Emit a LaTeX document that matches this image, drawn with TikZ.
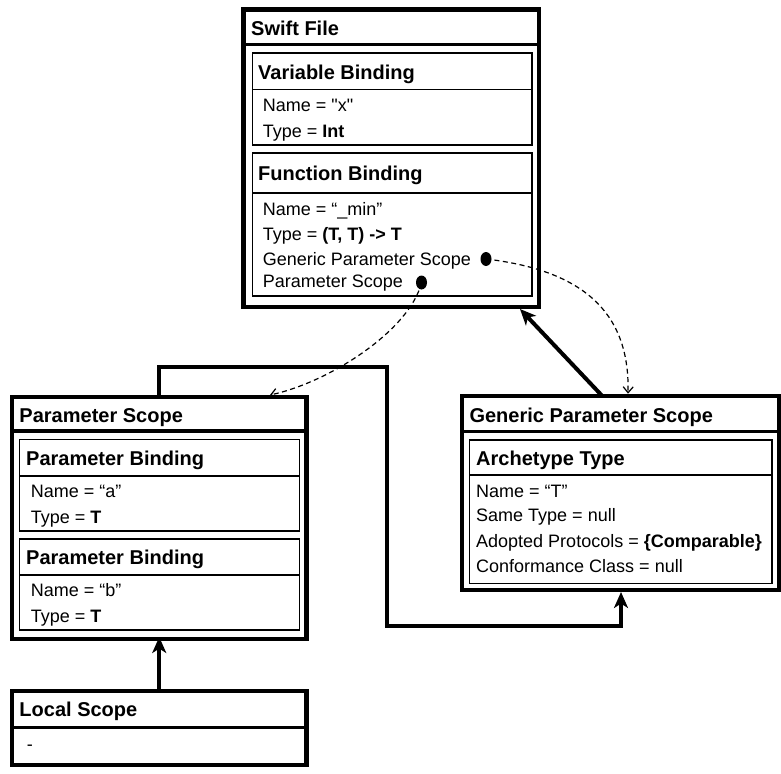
\documentclass[tikz,border=0pt]{standalone}
\usepackage{fontspec}
\setmainfont{Liberation Sans}[Ligatures=TeXOff]
\usetikzlibrary{arrows.meta,fit,calc,shapes.geometric}
\begin{document}
\begin{tikzpicture}[x=1pt,y=-1pt,
  scopebox/.style={draw, line width=4.2pt, inner sep=0pt, outer sep=0pt},
  bindbox/.style={draw, line width=1.6pt, inner sep=0pt, outer sep=0pt},
  headrule/.style={line width=3.2pt},
  bindrule/.style={line width=1.1pt},
  heading/.style={anchor=base west, inner sep=0pt, font=\fontsize{20}{24}\selectfont\bfseries},
  field/.style={anchor=base west, inner sep=0pt, font=\fontsize{18}{22}\selectfont},
  link/.style={line width=4pt, -{Stealth[length=16pt,width=14pt,inset=4.5pt]}},
  ref/.style={line width=1.2pt, dash pattern=on 5pt off 3.5pt, -{Straight Barb[length=6pt,width=10pt]}},
  handle/.style={ellipse, fill=black, inner sep=0pt, minimum width=11pt, minimum height=14pt}
]
\useasboundingbox (0,0) rectangle (781,773);

% ---------- Swift File ----------
\node[scopebox, fit={(243.5,9.5) (539,307)}] (swift) {};
\draw[headrule] ($(swift.north west)+(0,35)$) -- ($(swift.north east)+(0,35)$);
\node[heading] (swiftT) at (251,36) {Swift File};

\node[bindbox, fit={(252.3,53.3) (532,145)}] (varb) {};
\draw[bindrule] ($(varb.north west)+(0,36)$) -- ($(varb.north east)+(0,36)$);
\node[heading] (varbT) at (258,80) {Variable Binding};
\node[field] (varbN) at (262.7,111.7) {Name = "x"};
\node[field] (varbY) at (262.7,137.3) {Type = \textbf{Int}};

\node[bindbox, fit={(252.3,153) (532,296)}] (funcb) {};
\draw[bindrule] ($(funcb.north west)+(0,40)$) -- ($(funcb.north east)+(0,40)$);
\node[heading] (funcbT) at (258,180) {Function Binding};
\node[field] (funcbN) at (262.7,215) {Name = “\_min”};
\node[field] (funcbY) at (262.7,240.7) {Type = \textbf{(T, T) -> T}};
\node[field] (funcbG) at (262.7,265) {Generic Parameter Scope};
\node[field] (funcbP) at (262.7,287.3) {Parameter Scope};
\node[handle] (gdot) at (486,259) {};
\node[handle] (pdot) at (421.5,282.5) {};

% ---------- Parameter Scope ----------
\node[scopebox, fit={(12,397) (306.5,639)}] (param) {};
\draw[headrule] ($(param.north west)+(0,34)$) -- ($(param.north east)+(0,34)$);
\node[heading] (paramT) at (19.3,422.7) {Parameter Scope};

\node[bindbox, fit={(19.3,439.3) (299.3,531)}] (pba) {};
\draw[bindrule] ($(pba.north west)+(0,36.7)$) -- ($(pba.north east)+(0,36.7)$);
\node[heading] (pbaT) at (26,465) {Parameter Binding};
\node[field] (pbaN) at (30.7,497.3) {Name = “a”};
\node[field] (pbaY) at (30.7,523.3) {Type = \textbf{T}};

\node[bindbox, fit={(19.3,539) (299.3,630)}] (pbb) {};
\draw[bindrule] ($(pbb.north west)+(0,36)$) -- ($(pbb.north east)+(0,36)$);
\node[heading] (pbbT) at (26,564) {Parameter Binding};
\node[field] (pbbN) at (30.7,596.7) {Name = “b”};
\node[field] (pbbY) at (30.7,622.7) {Type = \textbf{T}};

% ---------- Local Scope ----------
\node[scopebox, fit={(12,691) (306.5,765)}] (local) {};
\draw[headrule] ($(local.north west)+(0,36.5)$) -- ($(local.north east)+(0,36.5)$);
\node[heading] (localT) at (19.3,716.7) {Local Scope};
\node[field] (localE) at (26.7,750) {-};

% ---------- Generic Parameter Scope ----------
\node[scopebox, fit={(462,395.7) (778.7,590)}] (generic) {};
\draw[headrule] ($(generic.north west)+(0,36)$) -- ($(generic.north east)+(0,36)$);
\node[heading] (genericT) at (469.3,422.7) {Generic Parameter Scope};

\node[bindbox, fit={(469.3,440) (771.7,583.3)}] (arch) {};
\draw[bindrule] ($(arch.north west)+(0,35)$) -- ($(arch.north east)+(0,35)$);
\node[heading] (archT) at (476,465) {Archetype Type};
\node[field] (archN) at (476,497.3) {Name = “T”};
\node[field] (archS) at (476,521.7) {Same Type = null};
\node[field] (archA) at (476,547.3) {Adopted Protocols = \textbf{\{Comparable\}}};
\node[field] (archC) at (476,572.7) {Conformance Class = null};

% ---------- connectors ----------
\draw[link, shorten >=-2pt] (local.north) -- (param.south);
\draw[link] ($(generic.north west)+(140,0)$) -- ($(swift.south west)+(276.5,2)$);

\coordinate (bendtop) at (387,366.5);
\coordinate (bendbot) at (387,626);
\draw[link] (param.north) |- (bendtop) -- (bendbot) -| ($(generic.south west)+(159,2)$);

\draw[ref] (gdot.center) .. controls (580,270) and (630,310) .. ($(generic.north west)+(166,-2)$);
\draw[ref] (pdot.center) .. controls (410,330) and (330,382) .. ($(param.north west)+(258,-2)$);
\end{tikzpicture}
\end{document}
